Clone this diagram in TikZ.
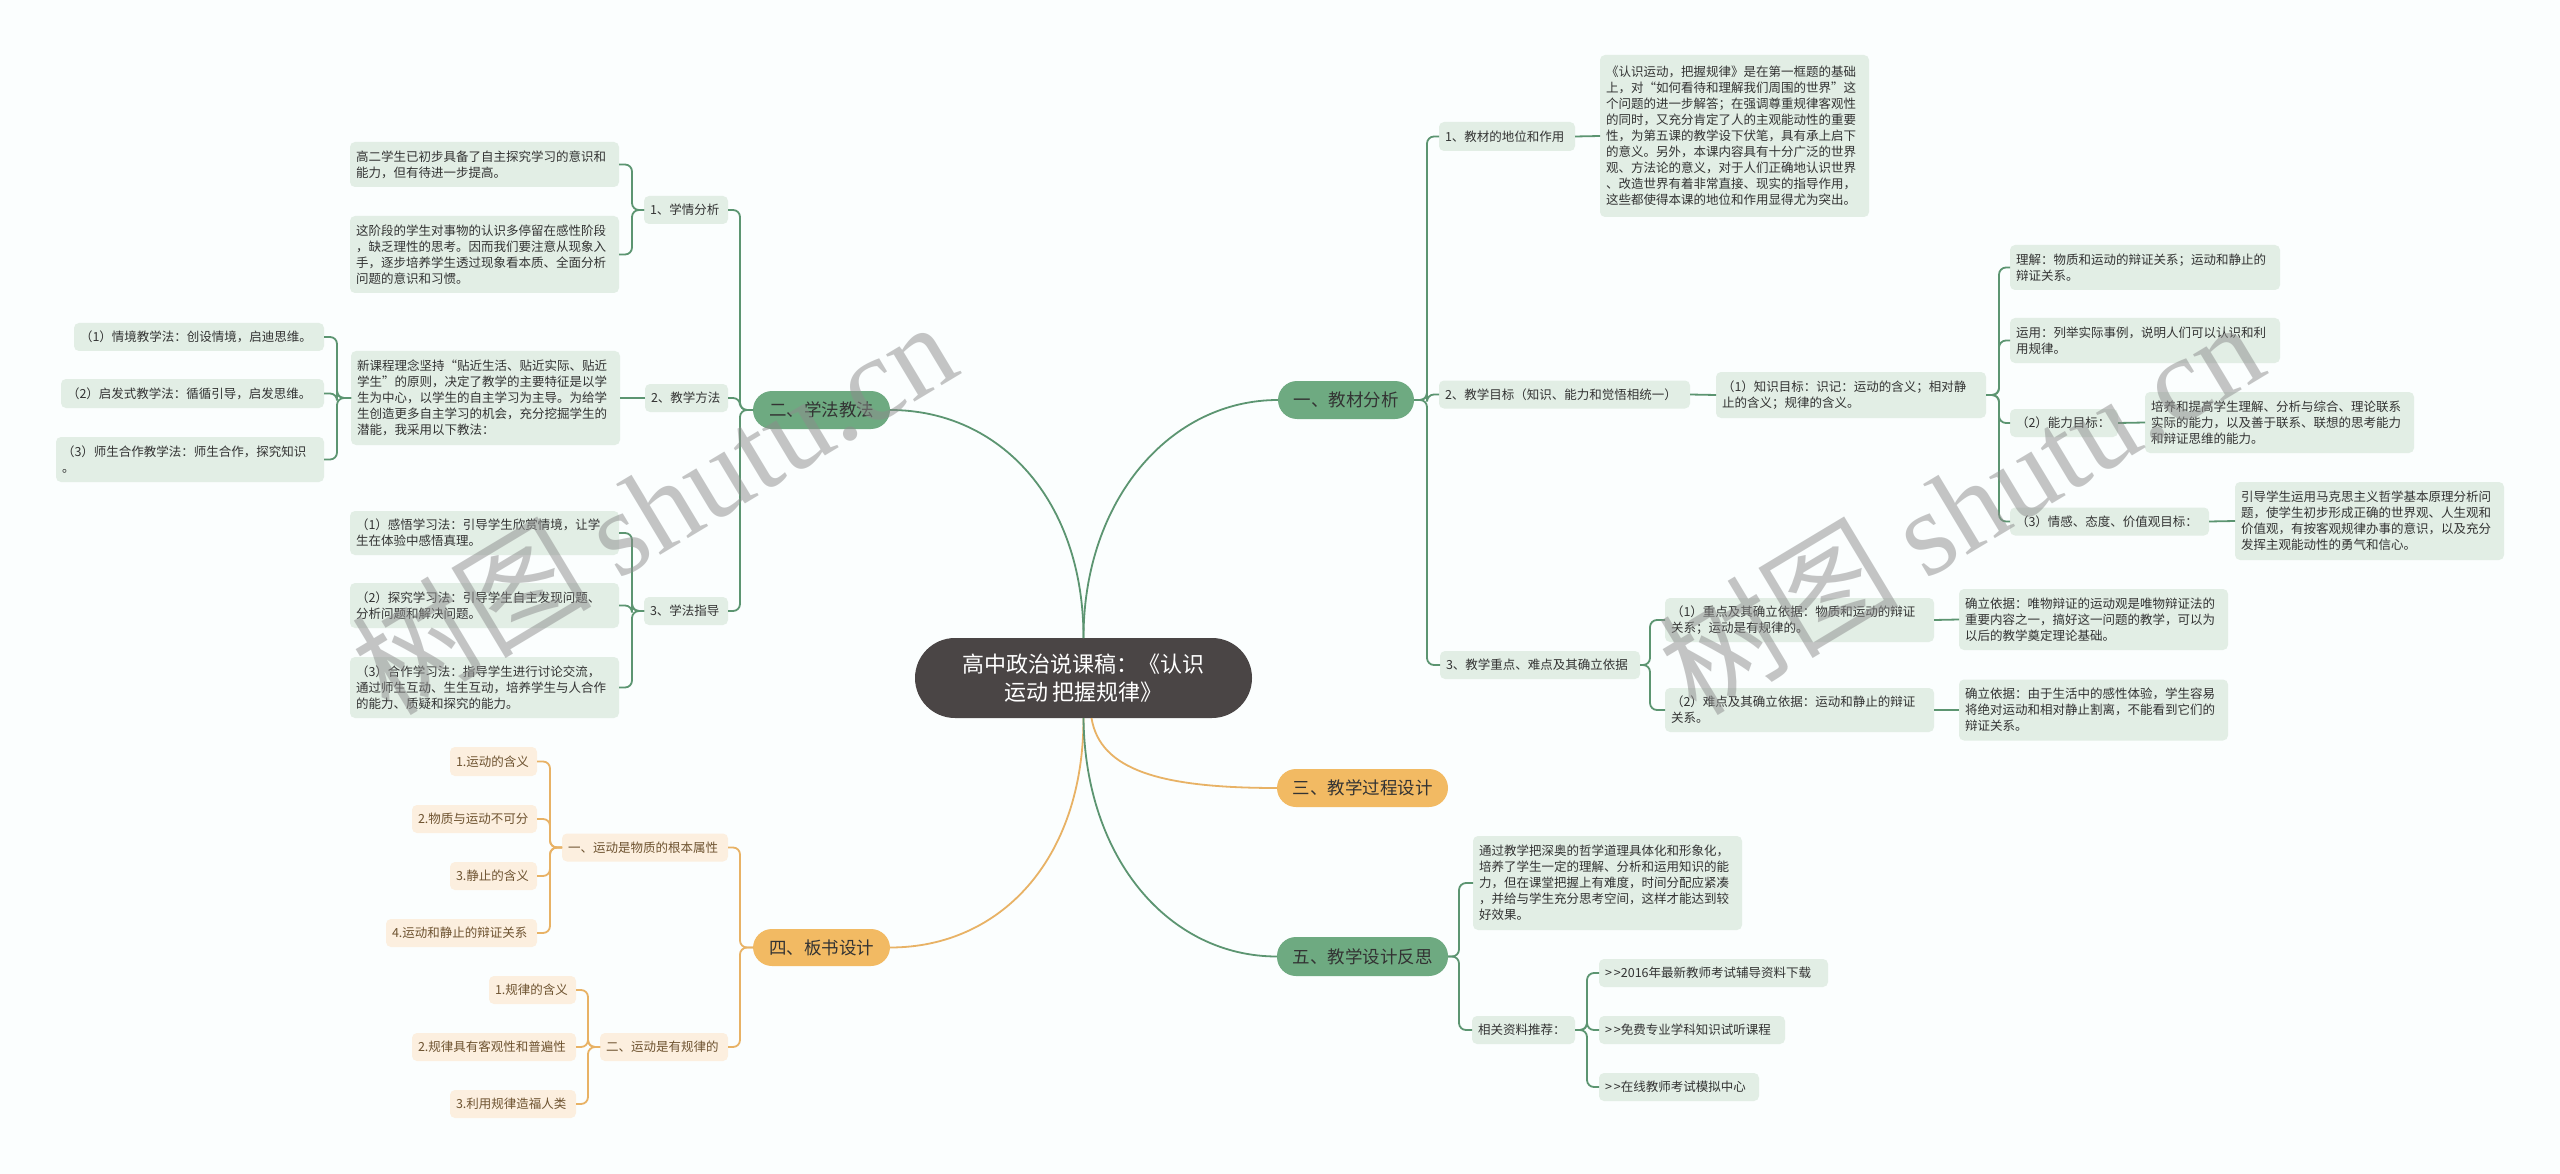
\documentclass[tikz,border=0pt]{standalone}
\usepackage{fontspec}
\setmainfont{Noto Sans CJK SC}
\newfontfamily\wmlat{Liberation Serif}
\definecolor{bgc}{HTML}{FBFEFE}
\definecolor{rootc}{HTML}{4A4545}
\definecolor{mgreen}{HTML}{6EAA81}
\definecolor{lgreen}{HTML}{E2EEE5}
\definecolor{gline}{HTML}{5C9571}
\definecolor{morange}{HTML}{F2BA63}
\definecolor{lorange}{HTML}{FCEFDF}
\definecolor{oline}{HTML}{E8B265}
\definecolor{txt}{HTML}{333333}
\definecolor{otxt}{HTML}{6E5330}
\newcommand{\gtgt}{>\kern2pt>\relax}
\begin{document}
\begin{tikzpicture}[x=1pt,y=-1pt,
  every node/.style={inner sep=0pt, outer sep=0pt},
  gl/.style={draw=gline, line width=1.8pt, rounded corners=7pt},
  ol/.style={draw=oline, line width=1.8pt, rounded corners=7pt},
  gc/.style={draw=gline, line width=1.8pt},
  oc/.style={draw=oline, line width=1.8pt},
  sb/.style={fill=lgreen, rounded corners=5pt, text=txt, font=\fontsize{12.5}{16}\selectfont, align=left, inner xsep=6pt},
  ob/.style={fill=lorange, rounded corners=5pt, text=otxt, font=\fontsize{12.5}{16}\selectfont, align=left, inner xsep=6pt},
  lg/.style={fill=mgreen, rounded corners=19pt, text=txt, font=\fontsize{17.5}{20}\selectfont, align=center},
  lo/.style={fill=morange, rounded corners=19pt, text=txt, font=\fontsize{17.5}{20}\selectfont, align=center},
  wm/.style={rotate=31, text=black!45, opacity=0.5, font=\fontsize{120}{120}\selectfont},
]
\fill[bgc] (0,0) rectangle (2560,1174);
\useasboundingbox (0,0) rectangle (2560,1174);

% root
\node[fill=rootc, rounded corners=40pt, minimum width=337pt, minimum height=80pt, text=white, font=\fontsize{22}{28}\selectfont, align=center] (root) at (1083.5,678) {高中政治说课稿：《认识\\运动 把握规律》};

% level 1
\node[lg, minimum width=136pt, minimum height=38pt] (yi) at (1346,400) {一、教材分析};
\node[lo, minimum width=171pt, minimum height=38pt] (san) at (1362.5,788) {三、教学过程设计};
\node[lg, minimum width=171pt, minimum height=39pt] (wu) at (1362.5,956.5) {五、教学设计反思};
\node[lg, minimum width=137pt, minimum height=38pt] (er) at (821.5,410) {二、学法教法};
\node[lo, minimum width=137pt, minimum height=37pt] (si) at (821.5,947.5) {四、板书设计};

% branch 一
\node[sb, text width=124pt, minimum height=29pt] (a1) at (1507,136.5) {1、教材的地位和作用};
\node[sb, text width=257pt, minimum height=162pt] (tA) at (1734.5,136) {《认识运动，把握规律》是在第一框题的基础\\上，对“如何看待和理解我们周围的世界”这\\个问题的进一步解答；在强调尊重规律客观性\\的同时，又充分肯定了人的主观能动性的重要\\性，为第五课的教学设下伏笔，具有承上启下\\的意义。另外，本课内容具有十分广泛的世界\\观、方法论的意义，对于人们正确地认识世界\\、改造世界有着非常直接、现实的指导作用，\\这些都使得本课的地位和作用显得尤为突出。};
\node[sb, text width=239pt, minimum height=28pt] (a2) at (1564.5,394.5) {2、教学目标（知识、能力和觉悟相统一）};
\node[sb, text width=258pt, minimum height=46pt] (k1) at (1851,395) {（1）知识目标：识记：运动的含义；相对静\\止的含义；规律的含义。};
\node[sb, text width=258pt, minimum height=45pt] (lj) at (2145,267.5) {理解：物质和运动的辩证关系；运动和静止的\\辩证关系。};
\node[sb, text width=258pt, minimum height=45pt] (yy) at (2145,340.5) {运用：列举实际事例，说明人们可以认识和利\\用规律。};
\node[sb, text width=96pt, minimum height=28pt] (nl) at (2064,423) {（2）能力目标：};
\node[sb, text width=257pt, minimum height=61pt] (py) at (2279.5,422.5) {培养和提高学生理解、分析与综合、理论联系\\实际的能力，以及善于联系、联想的思考能力\\和辩证思维的能力。};
\node[sb, text width=187pt, minimum height=28pt] (qg) at (2109.5,521.5) {（3）情感、态度、价值观目标：};
\node[sb, text width=257pt, minimum height=78pt] (yd) at (2369.5,521) {引导学生运用马克思主义哲学基本原理分析问\\题，使学生初步形成正确的世界观、人生观和\\价值观，有按客观规律办事的意识，以及充分\\发挥主观能动性的勇气和信心。};
\node[sb, text width=188pt, minimum height=28pt] (a3) at (1540,665) {3、教学重点、难点及其确立依据};
\node[sb, text width=257pt, minimum height=44pt] (zd) at (1799.5,620) {（1）重点及其确立依据：物质和运动的辩证\\关系；运动是有规律的。};
\node[sb, text width=257pt, minimum height=61pt] (zj1) at (2093.5,619.5) {确立依据：唯物辩证的运动观是唯物辩证法的\\重要内容之一，搞好这一问题的教学，可以为\\以后的教学奠定理论基础。};
\node[sb, text width=257pt, minimum height=44pt] (nd) at (1799.5,710) {（2）难点及其确立依据：运动和静止的辩证\\关系。};
\node[sb, text width=257pt, minimum height=61pt] (zj2) at (2093.5,710) {确立依据：由于生活中的感性体验，学生容易\\将绝对运动和相对静止割离，不能看到它们的\\辩证关系。};

% branch 五
\node[sb, text width=257pt, minimum height=94pt] (tB) at (1607.5,883) {通过教学把深奥的哲学道理具体化和形象化，\\培养了学生一定的理解、分析和运用知识的能\\力，但在课堂把握上有难度，时间分配应紧凑\\，并给与学生充分思考空间，这样才能达到较\\好效果。};
\node[sb, text width=91pt, minimum height=28pt] (xg) at (1523.5,1030) {相关资料推荐：};
\node[sb, text width=217pt, minimum height=28pt] (r1) at (1713.5,973) {\gtgt 2016年最新教师考试辅导资料下载};
\node[sb, text width=174pt, minimum height=28pt] (r2) at (1692,1030) {\gtgt 免费专业学科知识试听课程};
\node[sb, text width=148pt, minimum height=28pt] (r3) at (1679,1087) {\gtgt 在线教师考试模拟中心};

% branch 二
\node[sb, text width=72pt, minimum height=28pt] (b1) at (686,210) {1、学情分析};
\node[sb, text width=257pt, minimum height=45pt] (g1) at (484.5,164.5) {高二学生已初步具备了自主探究学习的意识和\\能力，但有待进一步提高。};
\node[sb, text width=257pt, minimum height=77pt] (g2) at (484.5,254.5) {这阶段的学生对事物的认识多停留在感性阶段\\，缺乏理性的思考。因而我们要注意从现象入\\手，逐步培养学生透过现象看本质、全面分析\\问题的意识和习惯。};
\node[sb, text width=71pt, minimum height=28pt] (b2) at (686.5,398) {2、教学方法};
\node[sb, text width=257pt, minimum height=94pt] (xk) at (485.5,398) {新课程理念坚持“贴近生活、贴近实际、贴近\\学生”的原则，决定了教学的主要特征是以学\\生为中心，以学生的自主学习为主导。为给学\\生创造更多自主学习的机会，充分挖掘学生的\\潜能，我采用以下教法：};
\node[sb, text width=238pt, minimum height=28pt] (m1) at (199,337) {（1）情境教学法：创设情境，启迪思维。};
\node[sb, text width=251pt, minimum height=29pt] (m2) at (192.5,393.5) {（2）启发式教学法：循循引导，启发思维。};
\node[sb, text width=256pt, minimum height=45pt] (m3) at (190,459.5) {（3）师生合作教学法：师生合作，探究知识\\。};
\node[sb, text width=72pt, minimum height=28pt] (b3) at (686,611) {3、学法指导};
\node[sb, text width=257pt, minimum height=44pt] (s1) at (484.5,533) {（1）感悟学习法：引导学生欣赏情境，让学\\生在体验中感悟真理。};
\node[sb, text width=257pt, minimum height=45pt] (s2) at (484.5,605.5) {（2）探究学习法：引导学生自主发现问题、\\分析问题和解决问题。};
\node[sb, text width=257pt, minimum height=61pt] (s3) at (484.5,687.5) {（3）合作学习法：指导学生进行讨论交流，\\通过师生互动、生生互动，培养学生与人合作\\的能力、质疑和探究的能力。};

% branch 四
\node[ob, text width=154pt, minimum height=28pt] (o1) at (645,847.5) {一、运动是物质的根本属性};
\node[ob, text width=75pt, minimum height=29pt] (o11) at (493.5,761.5) {1.运动的含义};
\node[ob, text width=113pt, minimum height=28pt] (o12) at (474.5,819) {2.物质与运动不可分};
\node[ob, text width=75pt, minimum height=28pt] (o13) at (493.5,876) {3.静止的含义};
\node[ob, text width=139pt, minimum height=28pt] (o14) at (461.5,933) {4.运动和静止的辩证关系};
\node[ob, text width=116pt, minimum height=28pt] (o2) at (664,1047) {二、运动是有规律的};
\node[ob, text width=75pt, minimum height=28pt] (o21) at (532.5,990) {1.规律的含义};
\node[ob, text width=152pt, minimum height=28pt] (o22) at (494,1047) {2.规律具有客观性和普遍性};
\node[ob, text width=114pt, minimum height=28pt] (o23) at (513,1104) {3.利用规律造福人类};

% root connectors
\draw[gc] (root.north) .. controls (1083.5,500) and (1170,400) .. (yi.west);
\draw[gc] (root.north) .. controls (1083.5,500) and (1000,410) .. (er.east);
\draw[oc] ([xshift=8pt]root.south) .. controls (1100,770) and (1160,788) .. (san.west);
\draw[oc] (root.south) .. controls (1083.5,860) and (1000,947.5) .. (si.east);
\draw[gc] (root.south) .. controls (1085,860) and (1170,956.5) .. (wu.west);

% 一 brackets
\foreach \c in {a1,a2,a3} \draw[gl] (yi.east) -- ([xshift=13pt]yi.east) |- (\c.west);
\draw[gc] (a1.east) -- (tA.west);
\draw[gc] (a2.east) -- (k1.west);
\foreach \c in {lj,yy,nl,qg} \draw[gl] (k1.east) -- ([xshift=13pt]k1.east) |- (\c.west);
\draw[gc] (nl.east) -- (py.west);
\draw[gc] (qg.east) -- (yd.west);
\foreach \c in {zd,nd} \draw[gl] (a3.east) -- ([xshift=10pt]a3.east) |- (\c.west);
\draw[gc] (zd.east) -- (zj1.west);
\draw[gc] (nd.east) -- (zj2.west);

% 五 brackets
\foreach \c in {tB,xg} \draw[gl] (wu.east) -- ([xshift=11pt]wu.east) |- (\c.west);
\foreach \c in {r1,r2,r3} \draw[gl] (xg.east) -- ([xshift=12pt]xg.east) |- (\c.west);

% 二 brackets
\foreach \c in {b1,b2,b3} \draw[gl] (er.west) -- ([xshift=-13pt]er.west) |- (\c.east);
\foreach \c in {g1,g2} \draw[gl] (b1.west) -- ([xshift=-12pt]b1.west) |- (\c.east);
\draw[gc] (b2.west) -- (xk.east);
\foreach \c in {m1,m2,m3} \draw[gl] (xk.west) -- ([xshift=-14pt]xk.west) |- (\c.east);
\foreach \c in {s1,s2,s3} \draw[gl] (b3.west) -- ([xshift=-12pt]b3.west) |- (\c.east);

% 四 brackets
\foreach \c in {o1,o2} \draw[ol] (si.west) -- ([xshift=-13pt]si.west) |- (\c.east);
\foreach \c in {o11,o12,o13,o14} \draw[ol] (o1.west) -- ([xshift=-12pt]o1.west) |- (\c.east);
\foreach \c in {o21,o22,o23} \draw[ol] (o2.west) -- ([xshift=-12pt]o2.west) |- (\c.east);

% watermarks
\node[wm] (wm1) at (653,506) {树图 {\wmlat shutu.cn}};
\node[wm] (wm2) at (1960,506) {树图 {\wmlat shutu.cn}};
\end{tikzpicture}
\end{document}
